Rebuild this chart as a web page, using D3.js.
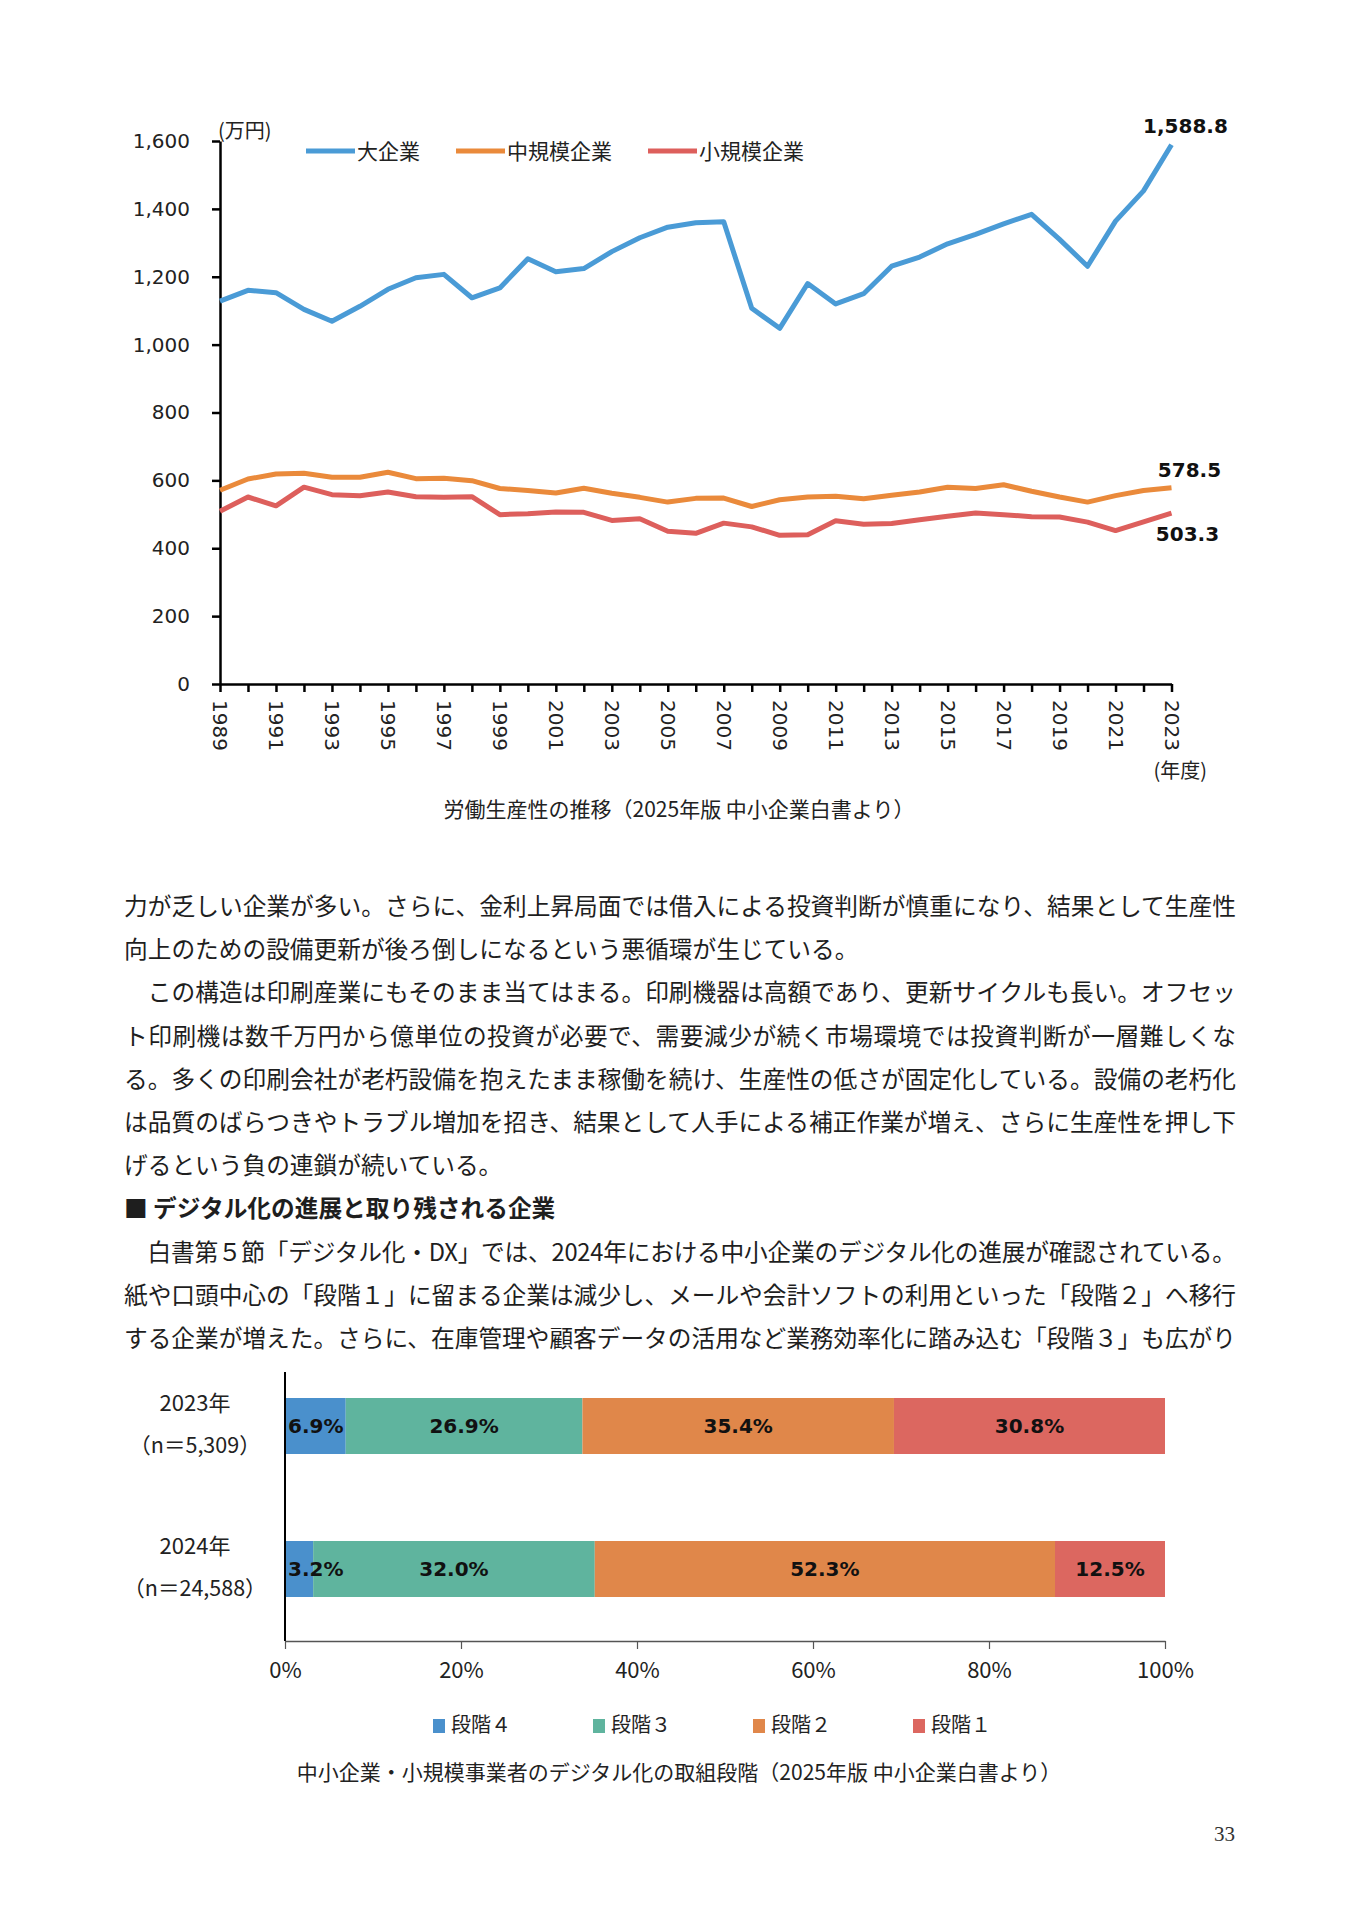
<!DOCTYPE html>
<html>
<head>
<meta charset="utf-8">
<title>労働生産性の推移</title>
<style>
  body { margin: 0; background: #fff; }
  svg text { font-family: "Noto Sans CJK JP", "Noto Sans", sans-serif; }
  svg text.num { font-family: "DejaVu Sans", Verdana, sans-serif; }
  svg text.serif { font-family: "Liberation Serif", serif; }
</style>
</head>
<body>
<svg id="page" width="1360" height="1920"></svg>
<script src="https://cdn.jsdelivr.net/npm/d3@7"></script>
<script>

// ---- line chart data (万円) ----
var years = [1989,1990,1991,1992,1993,1994,1995,1996,1997,1998,1999,2000,2001,2002,2003,2004,2005,2006,
             2007,2008,2009,2010,2011,2012,2013,2014,2015,2016,2017,2018,2019,2020,2021,2022,2023];
var large  = [1128,1160,1153,1104,1069,1113,1163,1197,1207,1138,1167,1253,1215,1224,1274,1315,1346,1359,
              1362,1107,1048,1180,1120,1150,1231,1258,1297,1325,1356,1384,1310,1231,1364,1453,1588.8];
var medium = [571,604,619,621,609,609,624,605,606,599,576,570,563,577,562,550,536,547,
              548,523,543,551,553,546,556,566,580,576,587,568,551,536,555,570,578.5];
var small  = [509,551,525,580,558,555,566,552,550,552,499,502,507,506,482,487,450,444,
              474,463,438,440,481,471,473,484,494,504,499,493,492,477,452,478,503.3];
var seriesNames = ["大企業", "中規模企業", "小規模企業"];
var endLabels = ["1,588.8", "578.5", "503.3"];
var yTicks = [0,200,400,600,800,1000,1200,1400,1600];

// ---- bar chart data (%) ----
var groups = ["2023年", "2024年"];
var groupN = ["（n＝5,309）", "（n＝24,588）"];
var stages = ["段階４", "段階３", "段階２", "段階１"];
var share2023 = [6.9, 26.9, 35.4, 30.8];
var share2024 = [3.2, 32.0, 52.3, 12.5];
var pctTicks = [0,20,40,60,80,100];

// ---- body text ----
var bodyLines = [
  {t: "力が乏しい企業が多い。さらに、金利上昇局面では借入による投資判断が慎重になり、結果として生産性"},
  {t: "向上のための設備更新が後ろ倒しになるという悪循環が生じている。", end: true},
  {t: "　この構造は印刷産業にもそのまま当てはまる。印刷機器は高額であり、更新サイクルも長い。オフセッ"},
  {t: "ト印刷機は数千万円から億単位の投資が必要で、需要減少が続く市場環境では投資判断が一層難しくな"},
  {t: "る。多くの印刷会社が老朽設備を抱えたまま稼働を続け、生産性の低さが固定化している。設備の老朽化"},
  {t: "は品質のばらつきやトラブル増加を招き、結果として人手による補正作業が増え、さらに生産性を押し下"},
  {t: "げるという負の連鎖が続いている。", end: true},
  {t: "■ デジタル化の進展と取り残される企業", end: true, head: true},
  {t: "　白書第５節「デジタル化・DX」では、2024年における中小企業のデジタル化の進展が確認されている。"},
  {t: "紙や口頭中心の「段階１」に留まる企業は減少し、メールや会計ソフトの利用といった「段階２」へ移行"},
  {t: "する企業が増えた。さらに、在庫管理や顧客データの活用など業務効率化に踏み込む「段階３」も広がり"}
];

var lineColors = ["#4a9bd6", "#ea8a3b", "#dd5f5c"];
var barColors = ["#4a90cc", "#5fb49e", "#e0874a", "#dc6760"];

var svg = d3.select("#page");
svg.append("rect").attr("width", 1360).attr("height", 1920).attr("fill", "#fff");

// ================= line chart =================
var x = d3.scaleLinear().domain([1989, 2023]).range([220, 1171.5]);
var y = d3.scaleLinear().domain([0, 1600]).range([684, 141]);

var gy = svg.append("g").attr("transform", "translate(220,0)")
  .call(d3.axisLeft(y).tickValues(yTicks).tickFormat(d3.format(",")).tickSize(8).tickSizeOuter(0).tickPadding(22));
gy.select(".domain").attr("stroke", "#000").attr("stroke-width", 2.5);
gy.selectAll(".tick line").attr("stroke", "#000").attr("stroke-width", 2.5);
gy.selectAll(".tick text").attr("class", "num").attr("font-size", 20).attr("fill", "#222");

var gx = svg.append("g").attr("transform", "translate(0,684)")
  .call(d3.axisBottom(x).tickValues(years).tickFormat(function(d) { return d % 2 ? String(d) : ""; })
    .tickSize(8).tickSizeOuter(0));
gx.select(".domain").attr("stroke", "#000").attr("stroke-width", 2.5);
gx.selectAll(".tick line").attr("stroke", "#000").attr("stroke-width", 2.5);
gx.selectAll(".tick text")
  .attr("class", "num").attr("font-size", 20).attr("fill", "#222")
  .attr("transform", "rotate(90)")
  .attr("x", 16).attr("y", 0).attr("dy", "0.36em")
  .attr("text-anchor", "start");

var line = d3.line().x(function(d, i) { return x(years[i]); }).y(function(d) { return y(d); });
[large, medium, small].forEach(function(s, k) {
  svg.append("path").datum(s).attr("d", line)
    .attr("fill", "none").attr("stroke", lineColors[k]).attr("stroke-width", 5)
    .attr("stroke-linejoin", "round");
});

// value labels at the last year
var labelOffset = [[14, -19], [18, -18], [16, 21]];
[large, medium, small].forEach(function(s, k) {
  svg.append("text").attr("class", "num")
    .attr("x", x(2023) + labelOffset[k][0]).attr("y", y(s[s.length - 1]) + labelOffset[k][1])
    .attr("dy", "0.36em").attr("text-anchor", "middle")
    .attr("font-size", 20).attr("font-weight", "bold").attr("fill", "#111")
    .text(endLabels[k]);
});

svg.append("text").attr("x", 218).attr("y", 138).attr("font-size", 20).attr("fill", "#222").text("(万円)");
svg.append("text").attr("x", 1207).attr("y", 778).attr("text-anchor", "end").attr("font-size", 20).attr("fill", "#222").text("(年度)");

// legend
var lx = 306;
seriesNames.forEach(function(name, k) {
  svg.append("line").attr("x1", lx).attr("x2", lx + 49).attr("y1", 151).attr("y2", 151)
    .attr("stroke", lineColors[k]).attr("stroke-width", 5);
  var t = svg.append("text").attr("x", lx + 51).attr("y", 151).attr("dy", "0.36em")
    .attr("font-size", 21).attr("fill", "#222").text(name);
  lx += 51 + t.node().getComputedTextLength() + 36;
});

svg.append("text").attr("x", 679).attr("y", 809).attr("dy", "0.36em").attr("text-anchor", "middle")
  .attr("font-size", 21).attr("fill", "#222").text("労働生産性の推移（2025年版 中小企業白書より）");

// ================= body text =================
bodyLines.forEach(function(l, i) {
  var t = svg.append("text").attr("x", 124).attr("y", 906 + i * 43.2).attr("dy", "0.38em")
    .attr("font-size", 23.7).attr("fill", "#1e1e1e")
    .attr("font-weight", l.head ? "bold" : "normal")
    .text(l.t);
  if (!l.end) t.attr("textLength", 1112).attr("lengthAdjust", "spacing");
});

// ================= bar chart =================
var xb = d3.scaleLinear().domain([0, 100]).range([285, 1165]);
var yb = d3.scalePoint().domain(groups).range([1354.5, 1640.5]).padding(0.5);
var barH = 56;

var barLabels = svg.append("g");
[share2023, share2024].forEach(function(vals, g) {
  var ends = d3.cumsum(vals);
  var cy = yb(groups[g]);
  vals.forEach(function(v, k) {
    var x0 = xb(ends[k] - v), x1 = xb(ends[k]);
    svg.insert("rect", function() { return barLabels.node(); })
      .attr("x", x0).attr("y", cy - barH / 2).attr("width", x1 - x0).attr("height", barH)
      .attr("fill", barColors[k]);
    var t = barLabels.append("text").attr("class", "num").attr("y", cy).attr("dy", "0.36em")
      .attr("text-anchor", "middle").attr("font-size", 20).attr("font-weight", "bold").attr("fill", "#111")
      .text(v.toFixed(1) + "%");
    var w = t.node().getComputedTextLength();
    t.attr("x", Math.max((x0 + x1) / 2, x0 + w / 2 + 3));
  });
  svg.append("text").attr("x", 195).attr("y", cy - 23).attr("dy", "0.36em").attr("text-anchor", "middle")
    .attr("font-size", 22).attr("fill", "#222").text(groups[g]);
  svg.append("text").attr("x", 195).attr("y", cy + 19).attr("dy", "0.36em").attr("text-anchor", "middle")
    .attr("font-size", 21.5).attr("fill", "#222").text(groupN[g]);
});

svg.append("line").attr("x1", 285).attr("x2", 285).attr("y1", 1372).attr("y2", 1641)
  .attr("stroke", "#000").attr("stroke-width", 2);

var gb = svg.append("g").attr("transform", "translate(0,1641)")
  .call(d3.axisBottom(xb).tickValues(pctTicks).tickFormat(function(d) { return d + "%"; })
    .tickSize(8).tickSizeOuter(0).tickPadding(13));
gb.select(".domain").attr("stroke", "#555").attr("stroke-width", 1.5);
gb.selectAll(".tick line").attr("stroke", "#555").attr("stroke-width", 1.2);
gb.selectAll(".tick text").attr("font-size", 22).attr("fill", "#222");

// legend
stages.forEach(function(s, k) {
  var sx = 433 + k * 160;
  svg.append("rect").attr("x", sx).attr("y", 1719).attr("width", 12).attr("height", 14).attr("fill", barColors[k]);
  svg.append("text").attr("x", sx + 18).attr("y", 1725).attr("dy", "0.36em")
    .attr("font-size", 20).attr("fill", "#222").text(s);
});

svg.append("text").attr("x", 679).attr("y", 1772).attr("dy", "0.36em").attr("text-anchor", "middle")
  .attr("font-size", 21).attr("fill", "#222").text("中小企業・小規模事業者のデジタル化の取組段階（2025年版 中小企業白書より）");

svg.append("text").attr("class", "serif").attr("x", 1235).attr("y", 1841).attr("text-anchor", "end")
  .attr("font-size", 21).attr("fill", "#333").text("33");

</script>
</body>
</html>
